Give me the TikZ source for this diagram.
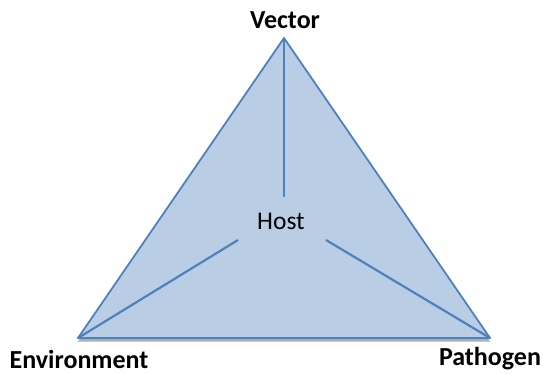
\documentclass[tikz,border=0pt]{standalone}
\usepackage{fontspec}
\setmainfont{Carlito}
\usetikzlibrary{calc}
\definecolor{triFill}{HTML}{B9CDE5}
\definecolor{triEdge}{HTML}{4F81BD}
\tikzset{
  corner/.style={font=\fontsize{26}{29}\selectfont\bfseries, text=black, inner sep=0pt},
  hub/.style={font=\fontsize{25.5}{28}\selectfont, text=black, inner sep=0pt},
  spoke/.style={draw=triEdge, line width=2.2pt},
}
\begin{document}
\begin{tikzpicture}[x=1pt,y=-1pt]
  \useasboundingbox (0,0) rectangle (543,374);
  % triangle corners
  \coordinate (V) at (284,38);
  \coordinate (E) at (78,338);
  \coordinate (P) at (490,338);
  % soft drop shadow under the base
  \fill[black!45, opacity=0.7] ($(V)+(0,3.5)$) -- ($(E)+(0,3.5)$) -- ($(P)+(0,3.5)$) -- cycle;
  % the triangle
  \filldraw[fill=triFill, draw=triEdge, line width=1.8pt, line join=round] (V) -- (E) -- (P) -- cycle;
  % centre label
  \node[hub] (host) at (281,221) {Host};
  \coordinate (hT) at (284,197);
  \coordinate (hL) at (238,240);
  \coordinate (hR) at (326,240);
  \draw[spoke] (V) -- (hT);
  \draw[spoke] (E) -- (hL);
  \draw[spoke] (P) -- (hR);
  % corner labels
  \node[corner] (vec) at (285,20) {Vector};
  \node[corner] (env) at (79,359) {Environment};
  \node[corner] (pat) at (490,359) {Pathogen};
\end{tikzpicture}
\end{document}
